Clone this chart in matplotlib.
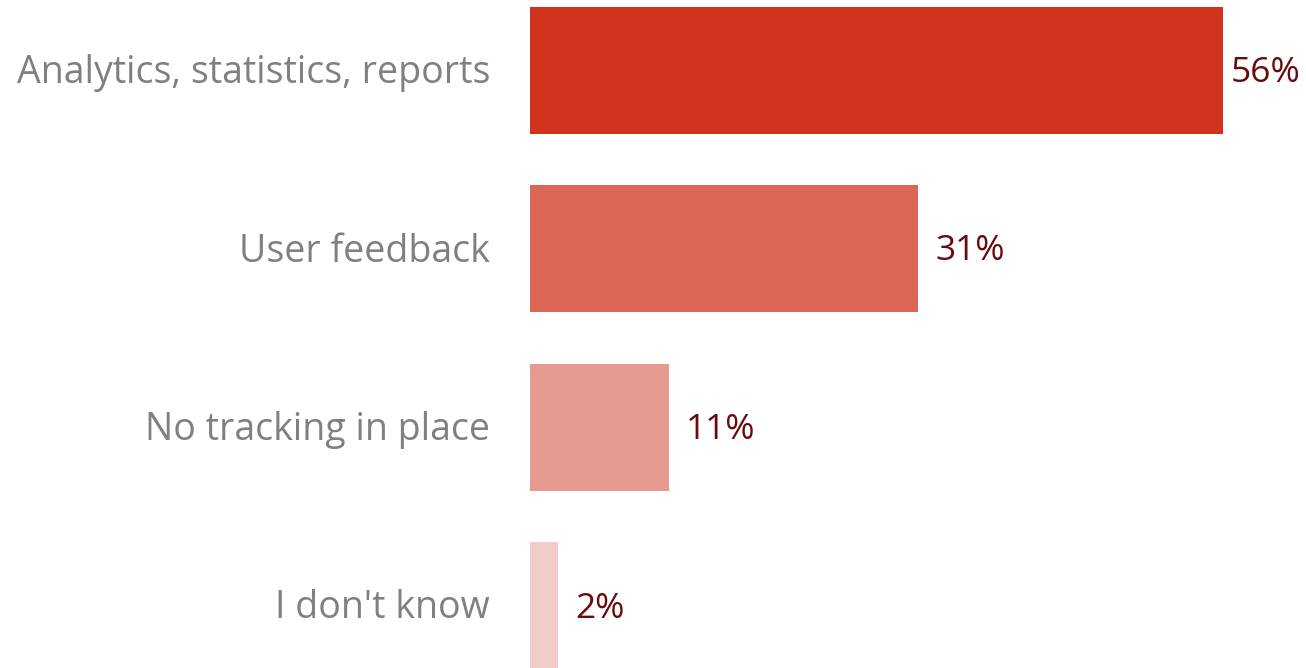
import matplotlib
matplotlib.use("Agg")
import matplotlib.pyplot as plt

categories = ["Analytics, statistics, reports", "User feedback", "No tracking in place", "I don't know"]
values = [56, 31.35, 11.23, 2.26]
value_labels = ["56%", "31%", "11%", "2%"]
colors = ["#D0321D", "#DB6655", "#E6998E", "#F2CCC6"]

W, H = 1306, 668
fig = plt.figure(figsize=(W / 100, H / 100), dpi=100)
left_px = 530
ax = fig.add_axes([left_px / W, 0, 1 - left_px / W, 1])

px_per_unit = (1223 - 530) / 56.0
xmax = (W - left_px) / px_per_unit
ax.set_xlim(0, xmax)
spacing = 178.5
ax.set_ylim(3 + (668 - 605.5) / spacing, -70 / spacing)

ypos = list(range(len(categories)))
ax.barh(ypos, values, height=127 / spacing, color=colors, left=0)

font = ["Open Sans", "DejaVu Sans"]
for y, v, lab in zip(ypos, values, value_labels):
    x = min(v + 17 / px_per_unit, (1231 - left_px) / px_per_unit)
    ax.text(x, y + 3 / spacing, lab, va="center", ha="left",
            fontsize=25.5, color="#6B0A0A", family=font)
for y, c in zip(ypos, categories):
    ax.text(-40 / px_per_unit, y + 3 / spacing, c, va="center", ha="right",
            fontsize=27, color="#808080", family=font)

ax.axis("off")
fig.savefig("out.png", dpi=100)
